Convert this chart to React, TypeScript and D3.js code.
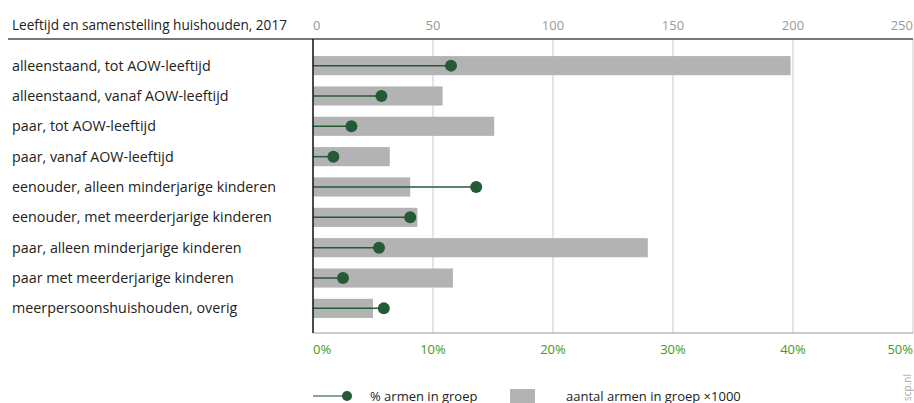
import React from "react";
import * as d3 from "d3";

const categories = [
  "alleenstaand, tot AOW-leeftijd",
  "alleenstaand, vanaf AOW-leeftijd",
  "paar, tot AOW-leeftijd",
  "paar, vanaf AOW-leeftijd",
  "eenouder, alleen minderjarige kinderen",
  "eenouder, met meerderjarige kinderen",
  "paar, alleen minderjarige kinderen",
  "paar met meerderjarige kinderen",
  "meerpersoonshuishouden, overig",
];
const aantal = [199, 54, 75.5, 32, 40.5, 43.5, 139.5, 58.3, 25];
const percent = [11.5, 5.7, 3.2, 1.7, 13.6, 8.1, 5.5, 2.5, 5.9];
const topTicks = [0, 50, 100, 150, 200, 250];
const bottomTicks = [0, 10, 20, 30, 40, 50];

const W = 914;
const H = 403;
const FONT = "'Open Sans', sans-serif";

export default function App() {
  const x = d3.scaleLinear().domain([0, 250]).range([313, 913]);
  const xp = d3.scaleLinear().domain([0, 50]).range([313, 913]);
  const y = d3.scaleBand().domain(categories).range([50, 324]).paddingInner(0.37).paddingOuter(0.2);
  const plotTop = 39;
  const plotBottom = 333;
  const green = "#245a35";
  return (
    <svg width={W} height={H} style={{ position: "absolute", left: 0, top: 0, fontFamily: FONT }}>
      <text x={12} y={30} fontSize={13.6} fill="#222">Leeftijd en samenstelling huishouden, 2017</text>
      {topTicks.map((t) => (
        <text key={"tt" + t} x={x(t)} y={30} fontSize={13} fill="#999" textAnchor={t === 0 ? "start" : t === 250 ? "end" : "middle"}>{t}</text>
      ))}
      {topTicks.slice(1).map((t) => (
        <line key={"g" + t} x1={x(t)} x2={x(t)} y1={plotTop} y2={plotBottom} stroke="#dddddd" strokeWidth={1.5} />
      ))}
      {categories.map((c, i) => {
        const yc = (y(c) as number) + y.bandwidth() / 2;
        return (
          <g key={c}>
            <text x={12} y={yc + 5} fontSize={14.3} fill="#222">{c}</text>
            <rect x={x(0)} y={y(c)} width={x(aantal[i]) - x(0)} height={y.bandwidth()} fill="#b3b3b3" />
            <line x1={xp(0)} x2={xp(percent[i])} y1={yc} y2={yc} stroke={green} strokeWidth={1.5} />
            <circle cx={xp(percent[i])} cy={yc} r={6} fill={green} />
          </g>
        );
      })}
      <line x1={8} x2={913} y1={plotTop} y2={plotTop} stroke="#777" strokeWidth={2} />
      <line x1={313} x2={913} y1={plotBottom} y2={plotBottom} stroke="#999" strokeWidth={1} />
      <line x1={313} x2={313} y1={plotTop} y2={plotBottom} stroke="#111" strokeWidth={1.5} />
      {bottomTicks.map((t) => (
        <text key={"bt" + t} x={xp(t)} y={354} fontSize={13} fill="#3e9b1a" textAnchor={t === 0 ? "start" : t === 50 ? "end" : "middle"}>{t}%</text>
      ))}
      <line x1={313} x2={347} y1={396} y2={396} stroke="#5d8a6a" strokeWidth={1.5} />
      <circle cx={347} cy={396} r={5} fill={green} />
      <text x={370} y={401} fontSize={13} fill="#222">% armen in groep</text>
      <rect x={510} y={389} width={25} height={14} fill="#b3b3b3" />
      <text x={566} y={401} fontSize={13} fill="#222">aantal armen in groep ×1000</text>
      <text transform="translate(911,401) rotate(-90)" fontSize={10} fill="#aaa">scp.nl</text>
    </svg>
  );
}
